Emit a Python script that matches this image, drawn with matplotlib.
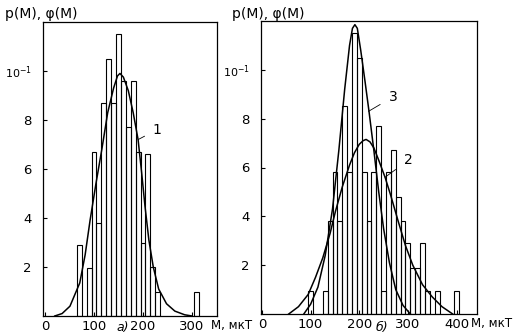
import matplotlib.pyplot as plt

plt.rcParams['font.family'] = ['DejaVu Sans Condensed', 'Liberation Sans Narrow', 'DejaVu Sans']
plt.rcParams['mathtext.fontset'] = 'dejavusans'

# histogram a): left bin edges (bin width 10) and heights, units of 1e-2
left_bins = [65, 85, 95, 105, 115, 125, 135, 145, 155, 165, 175, 185, 195, 205, 215, 225, 305]
left_heights = [2.9, 1.95, 6.7, 3.8, 8.7, 10.5, 8.7, 11.5, 9.6, 7.7, 9.6, 6.7, 3.0, 6.6, 2.0, 1.0, 1.0]

# curve 1
curve1_m = [20, 35, 51, 71, 82, 92, 104, 116, 128, 140, 148, 153, 160, 170, 180, 190,
            197, 204, 212, 221, 232, 248, 265, 285, 300]
curve1_p = [0, 0.1, 0.4, 1.35, 2.5, 3.9, 5.4, 6.8, 8.3, 9.3, 9.8, 9.9, 9.75, 9.2, 8.3, 7.2,
            5.9, 4.5, 3.1, 2.0, 1.1, 0.5, 0.2, 0.05, 0]

# histogram b)
right_bins = [95, 125, 135, 145, 155, 165, 175, 185, 195, 205, 215, 225, 235, 245, 255,
              265, 275, 285, 295, 305, 315, 325, 335, 355, 395]
right_heights = [0.94, 0.94, 3.8, 5.8, 3.8, 8.5, 5.8, 11.5, 10.5, 5.8, 3.8, 5.8, 7.7, 0.94, 5.8,
                 6.7, 4.8, 3.8, 2.9, 1.9, 1.9, 2.9, 0.94, 0.94, 0.94]

# curve 2 (wide)
curve2_m = [55, 75, 95, 110, 125, 140, 151, 165, 180, 190, 200, 208, 214, 222, 230, 240,
            253, 264, 280, 295, 310, 330, 350, 370, 392]
curve2_p = [0, 0.3, 0.8, 1.5, 2.3, 3.3, 4.2, 5.2, 6.1, 6.6, 6.95, 7.1, 7.15, 7.05, 6.8, 6.3,
            5.6, 4.9, 3.8, 2.8, 2.0, 1.2, 0.7, 0.3, 0]

# curve 3 (narrow)
curve3_m = [86, 100, 115, 130, 145, 158, 170, 180, 186, 191, 196, 203, 212, 220, 230, 240,
            250, 262, 275, 290, 305]
curve3_p = [0, 0.4, 1.1, 2.4, 4.3, 6.7, 9.2, 11.0, 11.7, 11.85, 11.7, 10.8, 9.5, 8.3, 6.7, 5.0,
            3.5, 2.1, 1.0, 0.35, 0]

y_ticks = [2, 4, 6, 8, 10]
y_labels = ['2', '4', '6', '8', '$10^{-1}$']

W, H = 513, 335
fig = plt.figure(figsize=(W / 100, H / 100), dpi=100)


def px_axes(x0, y0, x1, y1):
    return fig.add_axes([x0 / W, 1 - y1 / H, (x1 - x0) / W, (y1 - y0) / H])


def style(ax, xlim, xticks):
    ax.set_xlim(*xlim)
    ax.set_ylim(0, 12)
    ax.set_xticks(xticks)
    ax.set_xticklabels([str(t) for t in xticks])
    ax.set_yticks(y_ticks)
    ax.set_yticklabels(y_labels)
    ax.tick_params(direction='in', length=3, width=0.8, labelsize=9.5, pad=3)
    ax.tick_params(axis='y', pad=8)
    ax.get_yticklabels()[-1].set_fontsize(8)
    for s in ax.spines.values():
        s.set_linewidth(0.9)


def hist(ax, bins, heights):
    ax.bar(bins, heights, width=10, align='edge', fill=False,
           edgecolor='black', linewidth=0.8)


ax1 = px_axes(43, 22, 217, 316)
hist(ax1, left_bins, left_heights)
ax1.plot(curve1_m, curve1_p, color='black', lw=1.1)
style(ax1, (-4, 351), [0, 100, 200, 300])
ax1.annotate('1', xy=(190, 7.2), xytext=(228, 7.6), fontsize=10, ha='center', va='center',
             arrowprops=dict(arrowstyle='-', lw=0.6, shrinkB=0, shrinkA=4))

ax2 = px_axes(261, 21, 477, 314)
hist(ax2, right_bins, right_heights)
ax2.plot(curve2_m, curve2_p, color='black', lw=1.1)
ax2.plot(curve3_m, curve3_p, color='black', lw=1.1)
style(ax2, (-2, 442), [0, 100, 200, 300, 400])
ax2.annotate('3', xy=(219, 8.3), xytext=(270, 8.9), fontsize=10, ha='center', va='center',
             arrowprops=dict(arrowstyle='-', lw=0.6, shrinkB=0, shrinkA=5))
ax2.annotate('2', xy=(253, 5.6), xytext=(301, 6.3), fontsize=10, ha='center', va='center',
             arrowprops=dict(arrowstyle='-', lw=0.6, shrinkB=0, shrinkA=5))

fig.text(5 / W, 1 - 14 / H, 'p(M), φ(M)', fontsize=10, ha='left', va='center')
fig.text(232 / W, 1 - 14 / H, 'p(M), φ(M)', fontsize=10, ha='left', va='center')
fig.text(211 / W, 1 - 325 / H, 'M, мкТ', fontsize=8.5, ha='left', va='center')
fig.text(471 / W, 1 - 323 / H, 'M, мкТ', fontsize=8.5, ha='left', va='center')
fig.text(123 / W, 1 - 328 / H, 'а)', fontsize=9, ha='center', va='center', style='italic')
fig.text(382 / W, 1 - 328 / H, 'б)', fontsize=9, ha='center', va='center', style='italic')

fig.savefig('out.png', dpi=100)
